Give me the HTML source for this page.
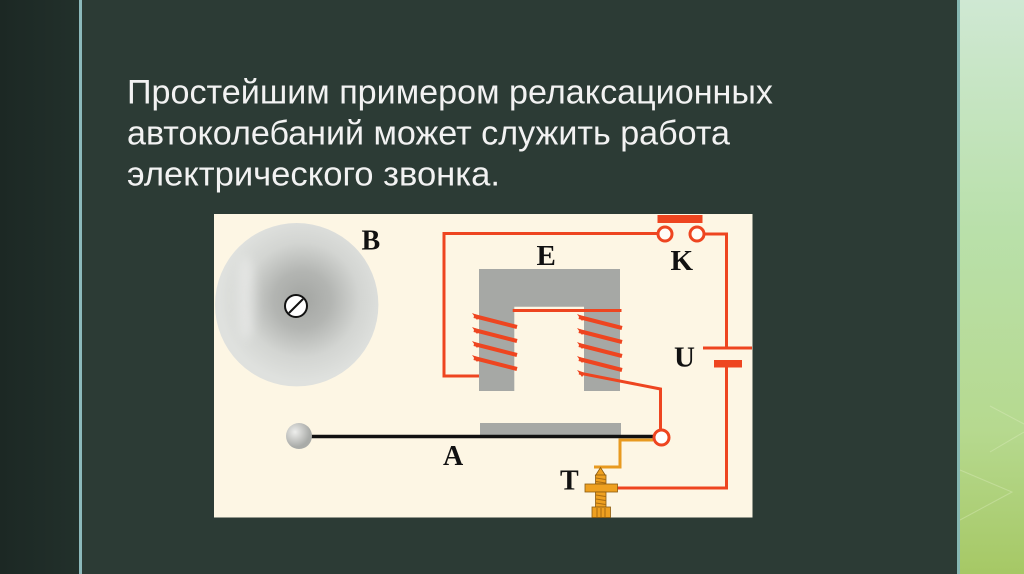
<!DOCTYPE html>
<html>
<head>
<meta charset="utf-8">
<style>
html,body{margin:0;padding:0;width:1024px;height:574px;overflow:hidden;background:#2c3b35;}
svg{display:block;}
</style>
</head>
<body>
<svg width="1024" height="574" viewBox="0 0 1024 574" xmlns="http://www.w3.org/2000/svg">
<defs>
<linearGradient id="gpanel" x1="0" y1="0" x2="0" y2="1">
<stop offset="0" stop-color="#cfe8d3"/>
<stop offset="0.4" stop-color="#b9e0aa"/>
<stop offset="0.75" stop-color="#b6d98f"/>
<stop offset="1" stop-color="#a6c865"/>
</linearGradient>
<linearGradient id="lpanel" x1="0" y1="0" x2="1" y2="0">
<stop offset="0" stop-color="#1c2824"/>
<stop offset="1" stop-color="#22302b"/>
</linearGradient>
<radialGradient id="bell" cx="302" cy="300" r="82" gradientUnits="userSpaceOnUse">
<stop offset="0" stop-color="#a3a5a2"/>
<stop offset="0.35" stop-color="#b3b5b2"/>
<stop offset="0.7" stop-color="#d3d5d2"/>
<stop offset="1" stop-color="#dfe1de"/>
</radialGradient>
<radialGradient id="ball" cx="295" cy="432" r="15" gradientUnits="userSpaceOnUse">
<stop offset="0" stop-color="#eeeeec"/>
<stop offset="1" stop-color="#a9aba8"/>
</radialGradient>
<filter id="blur" x="-50%" y="-50%" width="200%" height="200%"><feGaussianBlur stdDeviation="5"/></filter>
</defs>

<!-- slide background -->
<rect x="0" y="0" width="1024" height="574" fill="#2c3b35"/>
<rect x="0" y="0" width="79" height="574" fill="url(#lpanel)"/>
<rect x="79" y="0" width="3" height="574" fill="#8cb9bb"/>
<rect x="957" y="0" width="3" height="574" fill="#86b7b2"/>
<rect x="960" y="0" width="64" height="574" fill="url(#gpanel)"/>
<g stroke="#e4f0c8" stroke-width="1" fill="none" opacity="0.35">
<polyline points="990,406 1024,424"/>
<polyline points="990,452 1024,432"/>
<polyline points="960,470 1012,492 960,520"/>
</g>

<!-- title text -->
<g font-family="Liberation Sans, Arial, sans-serif" font-size="34" fill="#f2f2f2">
<text x="127" y="103.5" textLength="646" lengthAdjust="spacingAndGlyphs">Простейшим примером релаксационных</text>
<text x="127" y="144.5" textLength="603" lengthAdjust="spacingAndGlyphs">автоколебаний может служить работа</text>
<text x="127" y="185.5" textLength="373" lengthAdjust="spacingAndGlyphs">электрического звонка.</text>
</g>

<!-- diagram box -->
<rect x="214" y="214" width="538.5" height="303.5" fill="#fdf6e4"/>

<!-- bell -->
<circle cx="296.7" cy="304.7" r="81.7" fill="url(#bell)"/>
<ellipse cx="246" cy="298" rx="9" ry="42" fill="#ffffff" opacity="0.35" filter="url(#blur)"/>
<circle cx="296" cy="306" r="11" fill="#ffffff" stroke="#111" stroke-width="2"/>
<line x1="289" y1="313" x2="303" y2="299" stroke="#111" stroke-width="2"/>

<!-- electromagnet core -->
<path d="M479,269 H620 V391 H584 V306.7 H514.3 V391 H479 Z" fill="#a6a8a5"/>

<!-- red wires -->
<g stroke="#ee4520" stroke-width="3" fill="none">
<polyline points="479,376 444,376 444,233.5 657.5,233.5"/>
<polyline points="704,234 726.5,234 726.5,348"/>
<line x1="703" y1="348" x2="752" y2="348"/>
<polyline points="726.5,367 726.5,488 617.5,488"/>
<line x1="512.7" y1="310.5" x2="621.5" y2="310.5"/>
<polyline points="579,373 660.5,389 660.5,430"/>
<circle cx="665" cy="234" r="7" fill="#fffdf8"/>
<circle cx="697" cy="234" r="7" fill="#fffdf8"/>
</g>
<rect x="657.5" y="215" width="45" height="8" fill="#ee4520"/>
<rect x="714" y="360" width="28" height="7.5" fill="#ee4520"/>

<!-- coils -->
<g stroke="#ee4520" stroke-width="4" fill="none" stroke-linecap="butt">
<line x1="474" y1="316" x2="517" y2="327"/>
<line x1="474" y1="330" x2="517" y2="341"/>
<line x1="474" y1="344" x2="517" y2="355"/>
<line x1="474" y1="358" x2="517" y2="369"/>
<line x1="579" y1="317" x2="622" y2="328"/>
<line x1="579" y1="331" x2="622" y2="342"/>
<line x1="579" y1="345" x2="622" y2="356"/>
<line x1="579" y1="359" x2="622" y2="370"/>
</g>
<g fill="#ee4520">
<polygon points="472,313 480,316 477,320"/>
<polygon points="472,327 480,330 477,334"/>
<polygon points="472,341 480,344 477,348"/>
<polygon points="472,355 480,358 477,362"/>
<polygon points="577,314 585,317 582,321"/>
<polygon points="577,328 585,331 582,335"/>
<polygon points="577,342 585,345 582,349"/>
<polygon points="577,356 585,359 582,363"/>
<polygon points="577,370 585,373 582,377"/>
</g>

<!-- armature -->
<rect x="480" y="423" width="141" height="12" fill="#a6a8a5"/>
<line x1="299" y1="436.5" x2="654" y2="436.5" stroke="#111" stroke-width="3.5"/>
<circle cx="299" cy="436" r="13" fill="url(#ball)"/>

<!-- orange spring -->
<polyline points="653,440 620,440 620,467 594,467" stroke="#e89a20" stroke-width="3" fill="none"/>

<!-- terminal circle -->
<circle cx="661.5" cy="437.5" r="7.5" fill="#ffffff" stroke="#ee4520" stroke-width="3"/>

<!-- screw T -->
<g stroke="#8a5a10" stroke-width="0.8" fill="#eea020">
<polygon points="595.5,475.5 600.5,467.5 605.5,475.5"/>
<rect x="595.5" y="475" width="10.5" height="9"/>
<rect x="585" y="484" width="32.5" height="8"/>
<rect x="595.5" y="492" width="10.5" height="15"/>
<rect x="592" y="507" width="18.5" height="10.5"/>
</g>
<g stroke="#a86a10" stroke-width="1">
<line x1="596" y1="478" x2="605.5" y2="479.5"/>
<line x1="596" y1="481.5" x2="605.5" y2="483"/>
<line x1="596" y1="495" x2="605.5" y2="496.5"/>
<line x1="596" y1="499" x2="605.5" y2="500.5"/>
<line x1="596" y1="503" x2="605.5" y2="504.5"/>
<line x1="597" y1="508" x2="597" y2="517"/>
<line x1="601" y1="508" x2="601" y2="517"/>
<line x1="605" y1="508" x2="605" y2="517"/>
</g>

<!-- labels -->
<g font-family="Liberation Serif, Times New Roman, serif" font-weight="bold" fill="#111">
<text x="361.5" y="249.3" font-size="28">B</text>
<text x="536.5" y="265" font-size="29">E</text>
<text x="670.5" y="270" font-size="29">K</text>
<text x="674" y="366.5" font-size="29">U</text>
<text x="443" y="465" font-size="28">A</text>
<text x="560" y="489.3" font-size="28">T</text>
</g>
</svg>
</body>
</html>
